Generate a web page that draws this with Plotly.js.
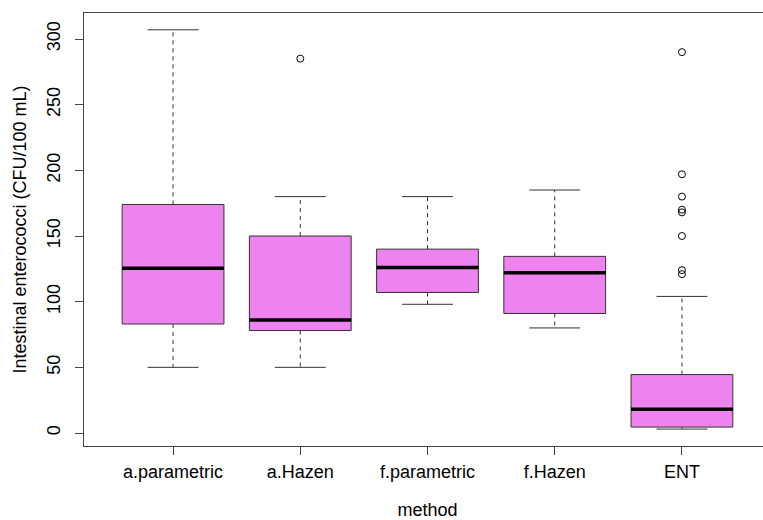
<!DOCTYPE html>
<html>
<head>
<meta charset="utf-8">
<script src="https://cdn.plot.ly/plotly-3.0.1.min.js"></script>
<style>
html,body{margin:0;padding:0;overflow:hidden;background:#fff;}
#chart{width:780px;height:520px;}
</style>
</head>
<body>
<div id="chart"></div>
<script>
// Data
const categories = ["a.parametric", "a.Hazen", "f.parametric", "f.Hazen", "ENT"];
const lowerWhisker = [50, 50, 98, 80, 3];
const q1 = [83, 78, 107, 91, 4.5];
const median = [125.5, 86, 126, 122, 18];
const q3 = [174, 150, 140, 134.5, 44.5];
const upperWhisker = [307, 180, 180, 185, 104];
const outlierCategory = ["a.Hazen", "ENT", "ENT", "ENT", "ENT", "ENT", "ENT", "ENT", "ENT"];
const outlierValues = [285, 290, 197, 180, 170, 168, 150, 124, 121];
const yTicks = [0, 50, 100, 150, 200, 250, 300];

const pos = categories.map((c, i) => i);
const boxHalf = 0.4, capHalf = 0.2;

const fontFam = '"Liberation Sans", Arial, sans-serif';

const wx = [], wy = [];
const cx = [], cy = [];
const mx = [], my = [];
pos.forEach((p, i) => {
  wx.push(p, p, null, p, p, null);
  wy.push(q3[i], upperWhisker[i], null, q1[i], lowerWhisker[i], null);
  cx.push(p - capHalf, p + capHalf, null, p - capHalf, p + capHalf, null);
  cy.push(upperWhisker[i], upperWhisker[i], null, lowerWhisker[i], lowerWhisker[i], null);
  mx.push(p - boxHalf, p + boxHalf, null);
  my.push(median[i], median[i], null);
});

const traces = [
  {
    type: 'scatter', mode: 'lines', x: wx, y: wy, hoverinfo: 'skip',
    line: {color: '#333', width: 1, dash: '4px,4px'}, showlegend: false
  },
  {
    type: 'scatter', mode: 'lines', x: cx, y: cy, hoverinfo: 'skip',
    line: {color: '#333', width: 1}, showlegend: false
  },
  {
    type: 'box', x: pos, q1: q1, median: median, q3: q3,
    lowerfence: q1, upperfence: q3, width: 2 * boxHalf,
    fillcolor: '#EE82EE', line: {color: '#333', width: 1},
    whiskerwidth: 0, boxpoints: false, showlegend: false
  },
  {
    type: 'scatter', mode: 'lines', x: mx, y: my, hoverinfo: 'skip',
    line: {color: '#000', width: 3.5}, showlegend: false
  },
  {
    type: 'scatter', mode: 'markers',
    x: outlierCategory.map(c => categories.indexOf(c)), y: outlierValues,
    marker: {symbol: 'circle-open', size: 7, color: '#000', line: {width: 1}},
    showlegend: false
  }
];

const layout = {
  width: 780, height: 520,
  margin: {l: 84, r: 9, t: 13, b: 74},
  paper_bgcolor: '#fff', plot_bgcolor: '#fff',
  font: {family: fontFam, size: 18, color: '#000'},
  showlegend: false,
  xaxis: {
    range: [-0.7, 4.7], tickmode: 'array', tickvals: pos, ticktext: categories,
    ticks: 'outside', ticklen: 8, tickcolor: '#444', tickwidth: 1,
    showline: true, mirror: true, linecolor: '#444', linewidth: 1,
    showgrid: false, zeroline: false, ticklabelstandoff: 1,
    title: {text: 'method', standoff: 25, font: {size: 18}}
  },
  yaxis: {
    range: [-9.9, 319.8], tickmode: 'array', tickvals: yTicks,
    ticktext: yTicks.map(String), tickangle: -90,
    ticks: 'outside', ticklen: 8, tickcolor: '#444', tickwidth: 1,
    showline: true, mirror: true, linecolor: '#444', linewidth: 1,
    showgrid: false, zeroline: false, ticklabelstandoff: 8,
    title: {text: 'Intestinal enterococci (CFU/100 mL)', standoff: 12, font: {size: 18}}
  }
};

Plotly.newPlot('chart', traces, layout, {staticPlot: true, displayModeBar: false});
</script>
</body>
</html>
